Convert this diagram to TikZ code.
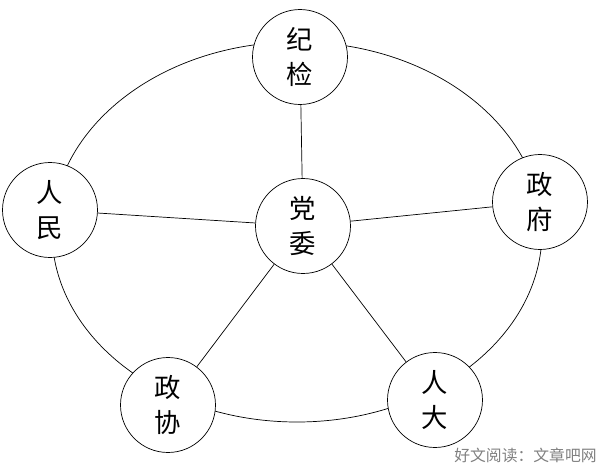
\documentclass[tikz,border=0pt]{standalone}
\usepackage{fontspec}
\newfontfamily\cjk{Noto Sans CJK SC}
\usetikzlibrary{arrows}

\begin{document}
\begin{tikzpicture}[x=0.02cm,y=-0.02cm,
  org/.style={circle,draw,fill=white,minimum size=1.9cm,inner sep=0pt,
    align=center,font=\cjk\fontsize{15}{20}\selectfont}]
\useasboundingbox (0,0) rectangle (600,467);
\draw (297,232) ellipse [x radius=245,y radius=190];
%
\draw (300,57) node[org] (jijian) {纪\\检};
\draw (50,210) node[org] (renmin) {人\\民};
\draw (540,202) node[org] (zhengfu) {政\\府};
\draw (168,405) node[org] (zhengxie) {政\\协};
\draw (435,400) node[org] (renda) {人\\大};
\draw (303,226) node[org] (dangwei) {党\\委};
%
\path[draw] (dangwei) -- (jijian);
\path[draw] (dangwei) -- (renmin);
\path[draw] (dangwei) -- (zhengfu);
\path[draw] (dangwei) -- (zhengxie);
\path[draw] (dangwei) -- (renda);
%
\draw (597,455) node[anchor=east,inner sep=0pt] (mark) {\cjk\fontsize{9}{11}\selectfont\color{gray}好文阅读：文章吧网};
\end{tikzpicture}
\end{document}
